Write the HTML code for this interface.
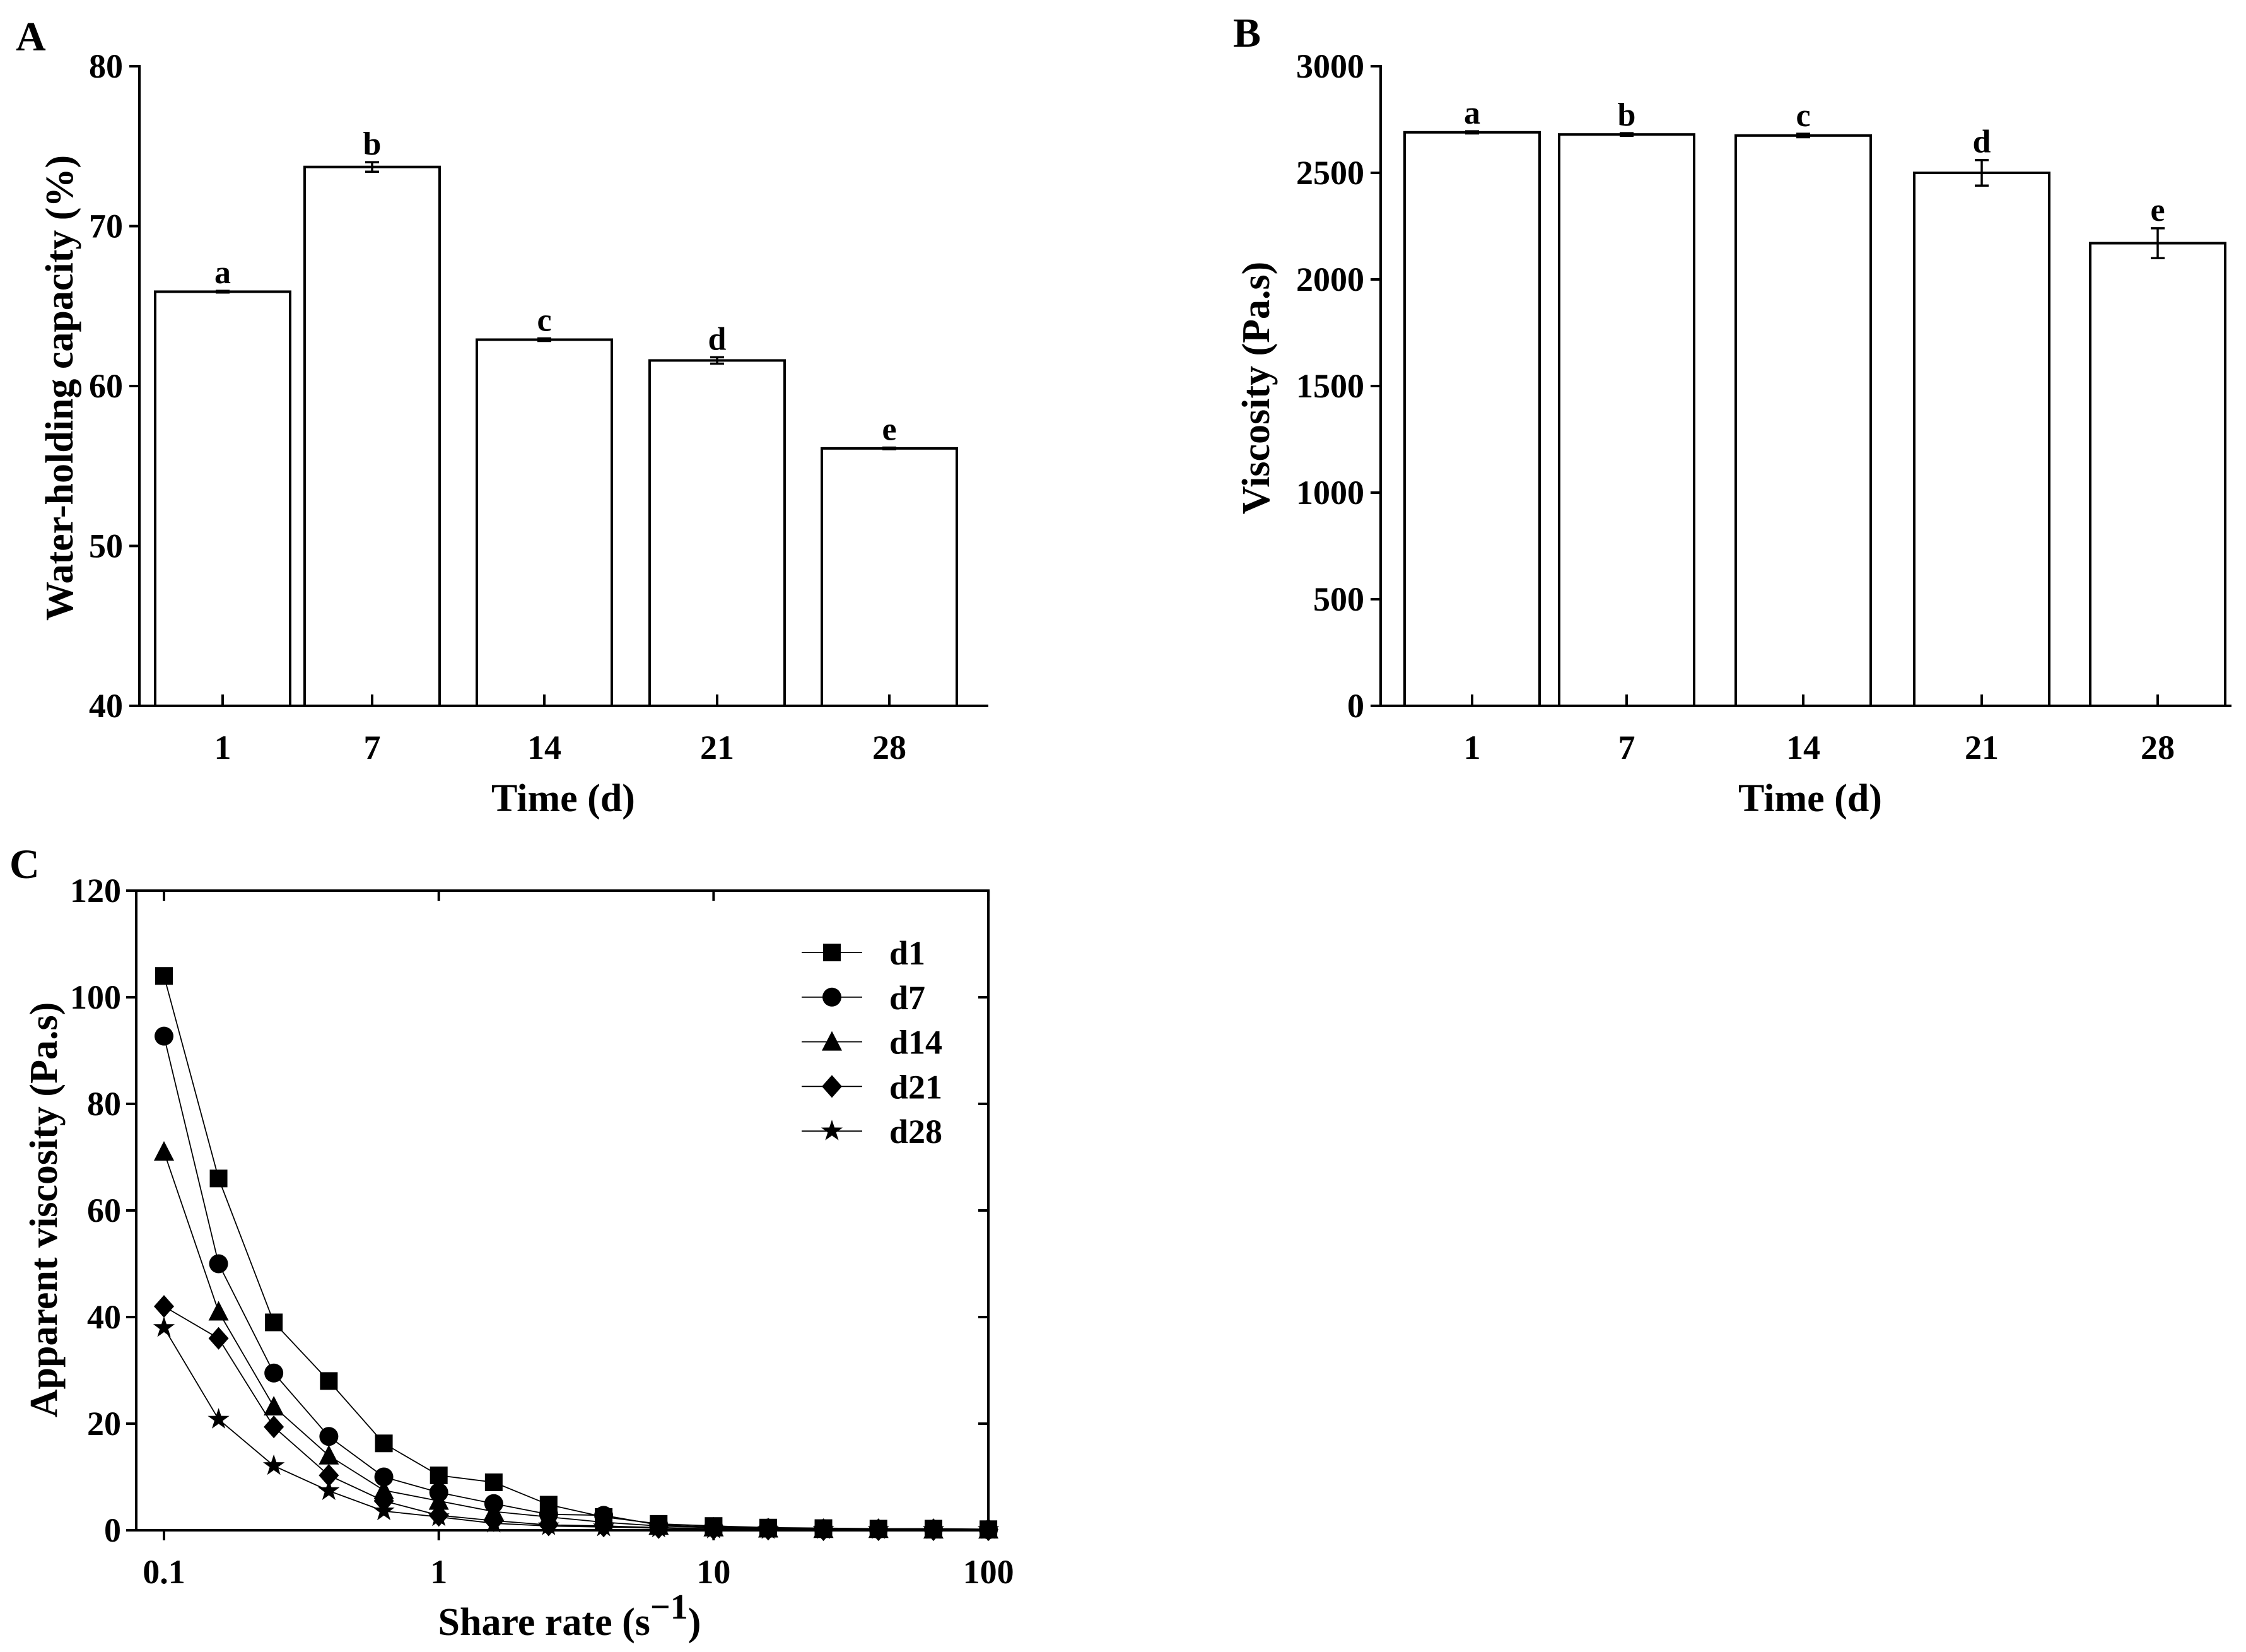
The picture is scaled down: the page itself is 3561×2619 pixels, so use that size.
<!DOCTYPE html>
<html><head><meta charset="utf-8"><style>
html,body{margin:0;padding:0;background:#fff;}
svg{display:block;font-family:"Liberation Serif",serif;font-weight:bold;}
</style></head><body>
<svg id="fig" width="3561" height="2619" viewBox="0 0 3561 2619" xmlns="http://www.w3.org/2000/svg"></svg>
<script>
const barCats = ["1","7","14","21","28"];
const whcValues = [65.9, 73.7, 62.9, 61.6, 56.1];
const whcErrors = [0.05, 0.3, 0.08, 0.2, 0.05];
const whcLetters = ["a","b","c","d","e"];
const whcTicks = [40,50,60,70,80];
const viscValues = [2690, 2680, 2675, 2500, 2170];
const viscErrors = [5, 6, 8, 60, 70];
const viscLetters = ["a","b","c","d","e"];
const viscTicks = [0,500,1000,1500,2000,2500,3000];
const shearRates = [0.1,0.158,0.251,0.398,0.631,1,1.585,2.51,3.98,6.31,10,15.8,25.1,39.8,63.1,100];
const seriesNames = ["d1","d7","d14","d21","d28"];
const d1 = [104,66,39,28,16.3,10.3,9.0,4.8,2.5,1.2,0.8,0.5,0.4,0.3,0.3,0.2];
const d7 = [92.7,50,29.5,17.6,10,7.1,5,3,2.8,1,0.6,0.4,0.3,0.2,0.2,0.1];
const d14 = [71,41,23.2,14,7.5,5.5,3.5,2.5,1.5,0.8,0.5,0.3,0.2,0.2,0.1,0.1];
const d21 = [42,36,19.4,10.3,5.5,2.8,1.8,1,0.8,0.5,0.3,0.2,0.1,0.1,0.1,0.1];
const d28 = [38,20.8,12.1,7.4,3.6,2.5,1.3,0.8,0.6,0.4,0.2,0.1,0.1,0.1,0.1,0.1];
const cTicksY = [0,20,40,60,80,100,120];
const cTicksX = [0.1,1,10,100];

const NS="http://www.w3.org/2000/svg";
const svg=document.getElementById('fig');
function el(tag,attrs,parent,text){
  const e=document.createElementNS(NS,tag);
  for(const k in attrs) e.setAttribute(k,attrs[k]);
  if(text!==undefined) e.textContent=text;
  (parent||svg).appendChild(e);
  return e;
}
function line(x1,y1,x2,y2,w,p){return el('line',{x1,y1,x2,y2,stroke:'#000','stroke-width':w||4},p);}

function barPanel(cfg){
  const g=el('g',{});
  
  
  const y=v=>cfg.y0+(v-cfg.min)/(cfg.max-cfg.min)*(cfg.y1-cfg.y0);
  const lt=el('text',{x:cfg.letterX,y:cfg.letterY,'font-size':66},g,cfg.letter);
  
  
  cfg.values.forEach((v,i)=>{
    const cx=cfg.centers[i],hw=cfg.hw;
    const b=el('rect',{x:cx-hw,y:y(v),width:2*hw,height:cfg.y0-y(v),fill:'#fff',stroke:'#000','stroke-width':4},g);
    
    
    const e=cfg.errs[i];
    line(cx,y(v+e),cx,y(v-e),3.5,g);
    line(cx-11,y(v+e),cx+11,y(v+e),3.5,g);
    line(cx-11,y(v-e),cx+11,y(v-e),3.5,g);
    const l=el('text',{x:cx,y:y(v+e)-12,'font-size':52,'text-anchor':'middle'},g,cfg.letters[i]);
    
    
    line(cx,cfg.y0,cx,cfg.y0-18,4,g);
    const t=el('text',{x:cx,y:cfg.y0+84,'font-size':54,'text-anchor':'middle'},g,cfg.cats[i]);
    
    
  });
  line(cfg.ax,cfg.y1-2,cfg.ax,cfg.y0+2,4,g);
  line(cfg.ax-2,cfg.y0,cfg.right,cfg.y0,4,g);
  cfg.ticks.forEach(v=>{
    line(cfg.ax,y(v),cfg.ax-16,y(v),4,g);
    const t=el('text',{x:cfg.ax-26,y:y(v)+18,'font-size':54,'text-anchor':'end'},g,String(v));
    
    
  });
  const xt=el('text',{x:cfg.xTitleX,y:cfg.y0+167,'font-size':62,'text-anchor':'middle'},g,'Time (d)');
  
  
  const yt=el('text',{x:0,y:0,'font-size':62,'text-anchor':'middle',transform:`translate(${cfg.yTitleX},${cfg.yTitleY}) rotate(-90)`},g,cfg.yTitle);
  
  
}
barPanel({name:'panel-a-water-holding',letter:'A',letterX:25,letterY:80,cats:barCats,values:whcValues,errs:whcErrors,letters:whcLetters,ticks:whcTicks,min:40,max:80,y0:1119,y1:105,ax:221,right:1567,centers:[353,590,863,1137,1410],hw:107,xTitleX:893,yTitle:'Water-holding capacity (%)',yTitleX:115,yTitleY:615});
barPanel({name:'panel-b-viscosity',letter:'B',letterX:1955,letterY:74,cats:barCats,values:viscValues,errs:viscErrors,letters:viscLetters,ticks:viscTicks,min:0,max:3000,y0:1119,y1:105,ax:2189,right:3538,centers:[2334,2579,2859,3142,3421],hw:107,xTitleX:2870,yTitle:'Viscosity (Pa.s)',yTitleX:2012,yTitleY:615});

// Panel C
(function(){
  const g=el('g',{});
  
  
  const L=216,R=1567,T=1412,B=2426,x01=260,dec=435.7;
  const x=v=>x01+Math.log10(v/0.1)*dec;
  const y=v=>B-(v/120)*(B-T);
  const lt=el('text',{x:15,y:1392,'font-size':66},g,'C');
  
  
  const box=el('rect',{x:L,y:T,width:R-L,height:B-T,fill:'none',stroke:'#000','stroke-width':4},g);
  
  
  cTicksY.forEach(v=>{
    line(L,y(v),L-16,y(v),4,g);
    line(R,y(v),R-16,y(v),4,g);
    const t=el('text',{x:L-24,y:y(v)+18,'font-size':54,'text-anchor':'end'},g,String(v));
    
    
  });
  cTicksX.forEach(v=>{
    line(x(v),B,x(v),B+16,4,g);
    line(x(v),T,x(v),T+16,4,g);
    const t=el('text',{x:x(v),y:B+84,'font-size':54,'text-anchor':'middle'},g,String(v));
    
    
  });
  const xt=el('text',{x:903,y:2592,'font-size':62,'text-anchor':'middle'},g);
  
  
  xt.innerHTML='Share rate (s<tspan dy="-26" font-size="56">−1</tspan><tspan dy="26">)</tspan>';
  const yt=el('text',{x:0,y:0,'font-size':62,'text-anchor':'middle',transform:'translate(90,1918) rotate(-90)'},g,'Apparent viscosity (Pa.s)');
  
  
  function marker(type,cx,cy,p){
    let m;
    if(type==0) m=el('rect',{x:cx-14,y:cy-14,width:28,height:28,fill:'#000'},p);
    else if(type==1) m=el('circle',{cx,cy,r:15,fill:'#000'},p);
    else if(type==2) m=el('polygon',{points:`${cx},${cy-17} ${cx+16},${cy+14} ${cx-16},${cy+14}`,fill:'#000'},p);
    else if(type==3) m=el('polygon',{points:`${cx},${cy-18} ${cx+16},${cy} ${cx},${cy+18} ${cx-16},${cy}`,fill:'#000'},p);
    else {
      let pts=[];for(let k=0;k<10;k++){const r=k%2?7:18,a=-Math.PI/2+k*Math.PI/5;pts.push((cx+r*Math.cos(a)).toFixed(1)+','+(cy+r*Math.sin(a)).toFixed(1));}
      m=el('polygon',{points:pts.join(' '),fill:'#000'},p);
    }
    return m;
  }
  const all=[d1,d7,d14,d21,d28];
  all.forEach((arr,si)=>{
    const sg=el('g',{},g);
    
    
    const pts=arr.map((v,i)=>x(shearRates[i]).toFixed(1)+','+y(v).toFixed(1)).join(' ');
    el('polyline',{points:pts,fill:'none',stroke:'#000','stroke-width':1.8},sg);
    arr.forEach((v,i)=>{
      const m=marker(si,x(shearRates[i]),y(v),sg);
      
      
    });
    const ly=1510+si*70.8;
    const lg=el('g',{},g);
    
    
    line(1271,ly,1367,ly,1.8,lg);
    marker(si,1319,ly,lg);
    el('text',{x:1410,y:ly+19,'font-size':54},lg,seriesNames[si]);
  });
})();
</script>
</body></html>
